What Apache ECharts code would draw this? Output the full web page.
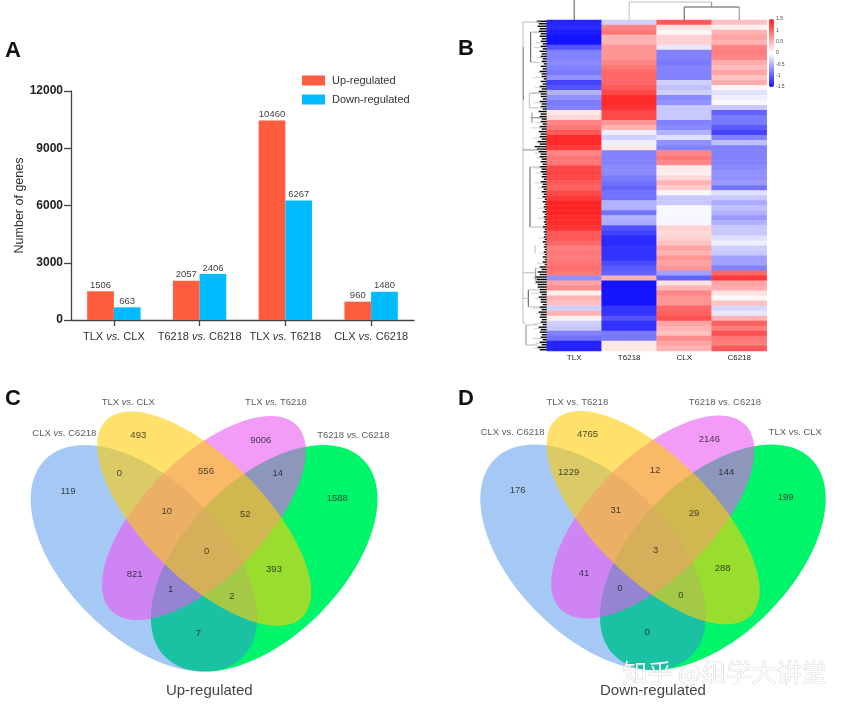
<!DOCTYPE html>
<html><head><meta charset="utf-8">
<style>html,body{margin:0;padding:0;background:#fff}#c{width:848px;height:708px;filter:blur(.5px)}</style>
<script src="https://cdn.jsdelivr.net/npm/echarts@6/dist/echarts.min.js"></script>
</head><body><div id="c"></div>
<script>
// ---------- Panel A ----------
const comparisons = ['TLX vs. CLX','T6218 vs. C6218','TLX vs. T6218','CLX vs. C6218'];
const upRegulated = [1506,2057,10460,960];
const downRegulated = [663,2406,6267,1480];
// ---------- Panel B ----------
const samples = ['TLX','T6218','CLX','C6218'];
const heatTLX = [-1.4,-1.35,-1.45,-1.5,-1.5,-1.1,-0.8,-0.8,-0.75,-0.8,-0.85,-0.7,-1.2,-1.1,-0.5,-0.7,-0.85,-0.8,0.15,0.25,0.8,0.9,1.1,1.4,1.4,1.3,0.8,0.9,0.9,1.2,1.25,1.2,1.1,
 1.05,1.2,1.3,1.45,1.45,1.45,1.4,1.4,1.35,1.1,1.1,1.0,0.85,0.9,0.85,0.9,0.95,0.9,-0.7,0.6,0.75,0.1,0.5,0.4,-0.3,0.5,0.1,-0.3,-0.35,-0.8,-0.9,-1.4,-1.4];
const heatT6218 = [-0.3,0.8,0.9,0.5,0.5,0.7,0.7,0.7,0.8,0.9,1.0,1.0,1.0,1.1,1.2,1.4,1.4,1.35,1.2,1.2,0.7,0.5,-0.1,-0.3,-0.1,0.15,-0.8,-0.8,-0.8,-0.75,-0.75,-0.85,-0.9,
 -1.0,-0.9,-0.9,-0.5,-0.5,-0.9,-0.5,-0.55,-1.1,-1.2,-1.35,-1.35,-1.3,-1.3,-1.3,-1.15,-1.05,-1.0,0.5,-1.5,-1.5,-1.5,-1.5,-1.5,-1.3,-1.3,-1.1,-1.3,-1.3,-0.85,-0.85,0.15,0.15];
const heatCLX = [1.1,0.2,0.05,0.3,0.3,-0.15,-0.8,-0.8,-0.85,-0.8,-0.8,-0.8,-0.3,-0.4,-0.3,-0.75,-0.7,-0.35,-0.35,-0.35,-0.8,-0.75,-0.5,-0.2,-0.7,-0.8,0.8,0.9,0.8,0.15,0.1,0.25,0.5,
 0.35,-0.05,-0.35,-0.35,-0.05,-0.05,-0.05,-0.05,0.3,0.25,0.3,0.4,0.6,0.5,0.7,0.6,0.7,-0.6,-1.0,0.2,0.5,0.8,0.7,0.7,1.0,1.05,1.15,0.6,0.5,0.4,0.75,0.6,0.5];
const heatC6218 = [0.4,0.1,0.5,0.6,0.5,0.8,0.85,0.8,0.55,0.45,0.6,0.4,0.55,0.05,-0.2,-0.1,-0.05,-0.35,-1.0,-0.85,-0.85,-1.05,-1.2,-0.8,-0.4,-0.8,-0.8,-0.8,-0.8,-0.75,-0.7,-0.7,-0.65,
 -0.9,-0.2,-0.35,-0.55,-0.4,-0.5,-0.65,-0.5,-0.35,-0.35,-0.2,-0.1,-0.3,-0.35,-0.6,-0.6,-0.8,1.0,1.3,0.6,0.55,0.2,0.05,0.4,-0.25,-0.15,0.5,1.05,0.85,1.15,0.9,0.85,1.1];
// dendrogram branches: [height, position, height, position, tone]
const sampleTree = [[0.5,0,0.5,22,2],[1.5,0,1.5,18,0],[1.5,18,3,18,0],[3,18,3,13,1],[2.5,13,3.5,13,2],[2.5,0,2.5,13,2],[3.5,0,3.5,13,1]];
const geneTree = [[23.7,0.4,23.7,60.4,0],[23.4,5.4,23.4,16,1],[23.7,0.4,6,0.4,0],
 [16,2.4,16,8.4,2],[16,2.4,8,2.4,0],[16,8.4,10,8.4,0],[17.4,14.6,17.4,17.5,0],[17.4,14.6,7,14.6,0],[17.4,17.5,9,17.5,0],
 [16,19.5,2,19.5,1],[14.7,18.5,14.7,20.5,1],[23.7,25.9,4,25.9,1],[16.7,29.3,16.7,41.3,2],[16.7,29.3,6,29.3,0],[16.7,41.3,6,41.3,0],
 [11.7,44.9,11.7,46.5,0],[23.7,50.4,11,50.4,0],[11,49.5,11,52,1],[18.4,53.8,18.4,57.2,2],[18.4,53.8,7,53.8,0],[18.4,57.2,7,57.2,0],
 [23.7,55.5,18.4,55.5,0],[20.7,60.8,20.7,64.8,1],[20.7,60.8,9,60.8,0],[20.7,64.8,9,64.8,0],[23.7,60.4,20.7,60.4,0]];
const geneLeafHeights = [10,9,8,7,6,6,7,6,5,6,7,5,6,7,8,6,7,6,8,7,6,7,8,7,9,12,8,7,6,7,6,5,6,5,5,4,4,3,4,3,3,4,3,3,4,3,3,4,4,7,9,12,11,9,7,8,6,7,8,7,6,8,7,6,7,9];
const geneTwigHeights = [12,0,14,0,11,13,0,10,12,0,9,14,0,12,15,0,13,11,0,14,12,16,0,13,11,0,12,10,0,13,11,0,12,9,0,10,0,8,0,9,0,7,0,8,0,0,7,0,10,12,0,14,13,0,15,12,0,14,11,0,13,12,0,14,11,13];
// ---------- Panels C / D ----------
const vennEllipses = [ // cx, cy, long radius, short radius, tilt, colour
 [264.3,178.3,139.7,78.3, 45,'rgba(0,245,106,1)'],
 [144,178.3,139.7,78.3,-45,'rgba(58,133,233,0.45)'],
 [204,138,131,60, 45,'rgba(233,88,241,0.6)'],
 [204.3,138.7,139,60,-45,'rgba(255,205,8,0.6)']];
const vennSlots = [[138.3,55.7],[260.7,60.7],[119.3,93.7],[206,91],[277.7,93.7],[68,111.3],[337.3,118.3],[166.7,131.7],[245.3,134],[206.7,171.7],[134.7,194],[274,189.7],[170.7,209.3],[232,216],[198.3,253]];
const vennUp = [493,9006,0,556,14,119,1588,10,52,0,821,393,1,2,7];
const vennDown = [4765,2146,1229,12,144,176,199,31,29,3,41,288,0,0,0];
const vennUpSets = [[128.3,22.7,'TLX vs. CLX'],[276,22.7,'TLX vs. T6218'],[64.3,53.3,'CLX vs. C6218'],[353.3,55.3,'T6218 vs. C6218']];
const vennDownSets = [[148,22.3,'TLX vs. T6218'],[296.3,22.3,'T6218 vs. C6218'],[83,52.7,'CLX vs. C6218'],[367,52.7,'TLX vs. CLX']];
const vennUpTitle = [[209.3,311,'Up-regulated']];
const vennDownTitle = [[224,311,'Down-regulated']];

const FONT = '"Liberation Sans",Arial,sans-serif';
const tones = ['#bdbdbd','#8a8a8a','#555555'];
const heatData = [];
[heatTLX,heatT6218,heatCLX,heatC6218].forEach((col,c)=>col.forEach((v,r)=>heatData.push([c,r,v])));

const leafSegs = [], twigSegs = [];
geneLeafHeights.forEach((h,i)=>{leafSegs.push([0,i+0.25,h,i+0.25,3]);leafSegs.push([0,i+0.75,Math.max(h-2,2),i+0.75,3]);});
geneTwigHeights.forEach((h,i)=>{if(h)twigSegs.push([0,i+0.5,h,i+0.5,0]);});

function segmentItem(width){
  return function(params,api){
    const a=api.coord([api.value(0),api.value(1)]),b=api.coord([api.value(2),api.value(3)]);
    const t=api.value(4);
    return {type:'line',shape:{x1:a[0],y1:a[1],x2:b[0],y2:b[1]},
      style:{stroke:t===3?'#000':tones[t],lineWidth:width,fill:null}};
  };
}
const hidden={show:false};
function vsLabel(v){const p=v.split(' vs. ');return '{n|'+p[0]+' }{i|vs.}{n| '+p[1]+'}';}
function textSeries(data,grid,size,color,rich){
  return {type:'scatter',xAxisIndex:grid,yAxisIndex:grid,data:data,symbolSize:1,silent:true,z:5,
    itemStyle:{color:'rgba(0,0,0,0)'},
    label:{show:true,position:'inside',fontFamily:FONT,fontSize:size,color:color,
      formatter:p=>rich?vsLabel(String(p.value[2])):String(p.value[2]),
      rich:rich?{n:{fontFamily:FONT,fontSize:size,color:color},i:{fontFamily:FONT,fontSize:size,color:color,fontStyle:'italic'}}:undefined}};
}
const slotData=(vals)=>vals.map((v,i)=>[vennSlots[i][0],vennSlots[i][1],v]);
const slotDataD=(vals)=>vals.map((v,i)=>[vennSlots[i][0]+20,vennSlots[i][1]-1,v]);
const vennAxis=(grid)=>({gridIndex:grid,type:'value',min:0,max:420,show:false});
const vennAxisY=(grid)=>({gridIndex:grid,type:'value',min:0,max:328,inverse:true,show:false});
const vennShape=(grid,dx,dy)=>({type:'custom',xAxisIndex:grid,yAxisIndex:grid,silent:true,clip:false,z:2,
  data:vennEllipses.map(e=>[e[0]+dx,e[1]+dy]),
  renderItem:function(params,api){
    const e=vennEllipses[params.dataIndex];
    const c=api.coord([api.value(0),api.value(1)]);
    const s=api.size([e[2],e[3]]);
    return {type:'ellipse',x:c[0],y:c[1],rotation:e[4]*Math.PI/180,shape:{cx:0,cy:0,rx:s[0],ry:s[1]},style:{fill:e[5],stroke:null}};
  }});

const chart=echarts.init(document.getElementById('c'),null,{renderer:'canvas',width:848,height:708});
chart.setOption({
  animation:false,backgroundColor:'#fff',textStyle:{fontFamily:FONT},
  legend:{left:302,top:75,padding:0,orient:'vertical',itemWidth:23,itemHeight:10,itemGap:8,icon:'rect',
    data:['Up-regulated','Down-regulated'],textStyle:{fontFamily:FONT,fontSize:11,color:'#333',padding:[0,0,0,2]},selectedMode:false},
  visualMap:{type:'continuous',seriesIndex:2,dimension:2,min:-1.5,max:1.5,left:754,top:4,itemWidth:5,itemHeight:68,
    calculable:false,text:null,showLabel:false,inRange:{color:['#1414ff','#ffffff','#ff1c1c']},textStyle:{fontSize:1,color:'rgba(0,0,0,0)'}},
  grid:[
    {left:71,top:91,width:343,height:229},
    {left:546.7,top:20,width:220,height:331},
    {left:546.7,top:0,width:220,height:20},
    {left:515,top:20,width:31.7,height:331},
    {left:769,top:19,width:5,height:68},
    {left:0,top:380,width:420,height:328},
    {left:430,top:380,width:420,height:328}],
  xAxis:[
    {gridIndex:0,type:'category',data:comparisons,
      axisLine:{lineStyle:{color:'#444',width:1.3}},axisTick:{show:true,length:6,alignWithLabel:true,lineStyle:{color:'#444',width:1.3}},
      axisLabel:{margin:11,interval:0,formatter:vsLabel,rich:{n:{fontFamily:FONT,fontSize:11,color:'#333'},i:{fontFamily:FONT,fontSize:11,color:'#333',fontStyle:'italic'}}}},
    {gridIndex:1,type:'category',data:samples,axisLine:hidden,axisTick:hidden,splitLine:hidden,
      axisLabel:{margin:3,fontFamily:FONT,fontSize:8,color:'#222'}},
    {gridIndex:2,type:'value',min:0,max:4,show:false},
    {gridIndex:3,type:'value',min:0,max:31.7,inverse:true,show:false},
    {gridIndex:4,type:'value',min:0,max:1,show:false},
    vennAxis(5),vennAxis(6)],
  yAxis:[
    {gridIndex:0,type:'value',min:0,max:12000,interval:3000,name:'Number of genes',nameLocation:'middle',nameGap:36,
      nameTextStyle:{fontFamily:FONT,fontSize:12.5,color:'#333'},
      axisLine:{show:true,lineStyle:{color:'#444',width:1.3}},axisTick:{show:true,length:7,lineStyle:{color:'#444',width:1.3}},
      splitLine:hidden,axisLabel:{margin:8,fontFamily:FONT,fontSize:12,fontWeight:'bold',color:'#222',formatter:v=>String(v)}},
    {gridIndex:1,type:'category',data:heatTLX.map((_,i)=>i),inverse:true,show:false},
    {gridIndex:2,type:'value',min:0,max:20,show:false},
    {gridIndex:3,type:'value',min:0,max:66,inverse:true,show:false},
    {gridIndex:4,type:'value',min:-1.5,max:1.5,interval:0.5,position:'right',axisLine:hidden,axisTick:hidden,splitLine:hidden,
      axisLabel:{margin:2,fontFamily:FONT,fontSize:5,color:'#444',formatter:v=>String(v)}},
    vennAxisY(5),vennAxisY(6)],
  series:[
    {name:'Up-regulated',type:'bar',xAxisIndex:0,yAxisIndex:0,data:upRegulated,barWidth:26.7,barGap:0,itemStyle:{color:'#ff5d3d'},
      label:{show:true,position:'top',distance:1,fontFamily:FONT,fontSize:9.5,color:'#444'}},
    {name:'Down-regulated',type:'bar',xAxisIndex:0,yAxisIndex:0,data:downRegulated,barWidth:26.7,barGap:0,itemStyle:{color:'#00bbff'},
      label:{show:true,position:'top',distance:1,fontFamily:FONT,fontSize:9.5,color:'#444'}},
    {type:'heatmap',xAxisIndex:1,yAxisIndex:1,data:heatData,progressive:0,silent:true,itemStyle:{borderWidth:0}},
    {type:'custom',xAxisIndex:2,yAxisIndex:2,data:sampleTree,clip:true,silent:true,renderItem:segmentItem(1)},
    {type:'custom',xAxisIndex:3,yAxisIndex:3,data:twigSegs,silent:true,renderItem:segmentItem(0.7)},
    {type:'custom',xAxisIndex:3,yAxisIndex:3,data:leafSegs,silent:true,renderItem:segmentItem(1.4)},
    {type:'custom',xAxisIndex:3,yAxisIndex:3,data:geneTree,silent:true,renderItem:segmentItem(1)},
    vennShape(5,0,0),vennShape(6,20,-1),
    textSeries(slotData(vennUp),5,9.5,'#1a1a1a',false),
    textSeries(slotDataD(vennDown),6,9.5,'#1a1a1a',false),
    textSeries(vennUpSets,5,9.5,'#333',true),
    textSeries(vennDownSets,6,9.5,'#333',false),
    textSeries(vennUpTitle,5,15,'#111',false),
    textSeries(vennDownTitle,6,15,'#111',false)
  ],
  graphic:[
    {type:'text',left:5,top:40,z:50,style:{text:'A',fontFamily:FONT,fontSize:22,fontWeight:'bold',fill:'#111'}},
    {type:'text',left:458,top:38,z:50,style:{text:'B',fontFamily:FONT,fontSize:22,fontWeight:'bold',fill:'#111'}},
    {type:'text',left:5,top:388,z:50,style:{text:'C',fontFamily:FONT,fontSize:22,fontWeight:'bold',fill:'#111'}},
    {type:'text',left:458,top:388,z:50,style:{text:'D',fontFamily:FONT,fontSize:22,fontWeight:'bold',fill:'#111'}},
    {type:'text',left:622,top:660,z:60,style:{text:'知乎 @组学大讲堂',fontFamily:'"Noto Sans CJK SC"',fontSize:25,fill:'rgba(255,255,255,0.88)',stroke:'rgba(110,110,110,0.45)',lineWidth:0.6}}
  ]
});
</script></body></html>
